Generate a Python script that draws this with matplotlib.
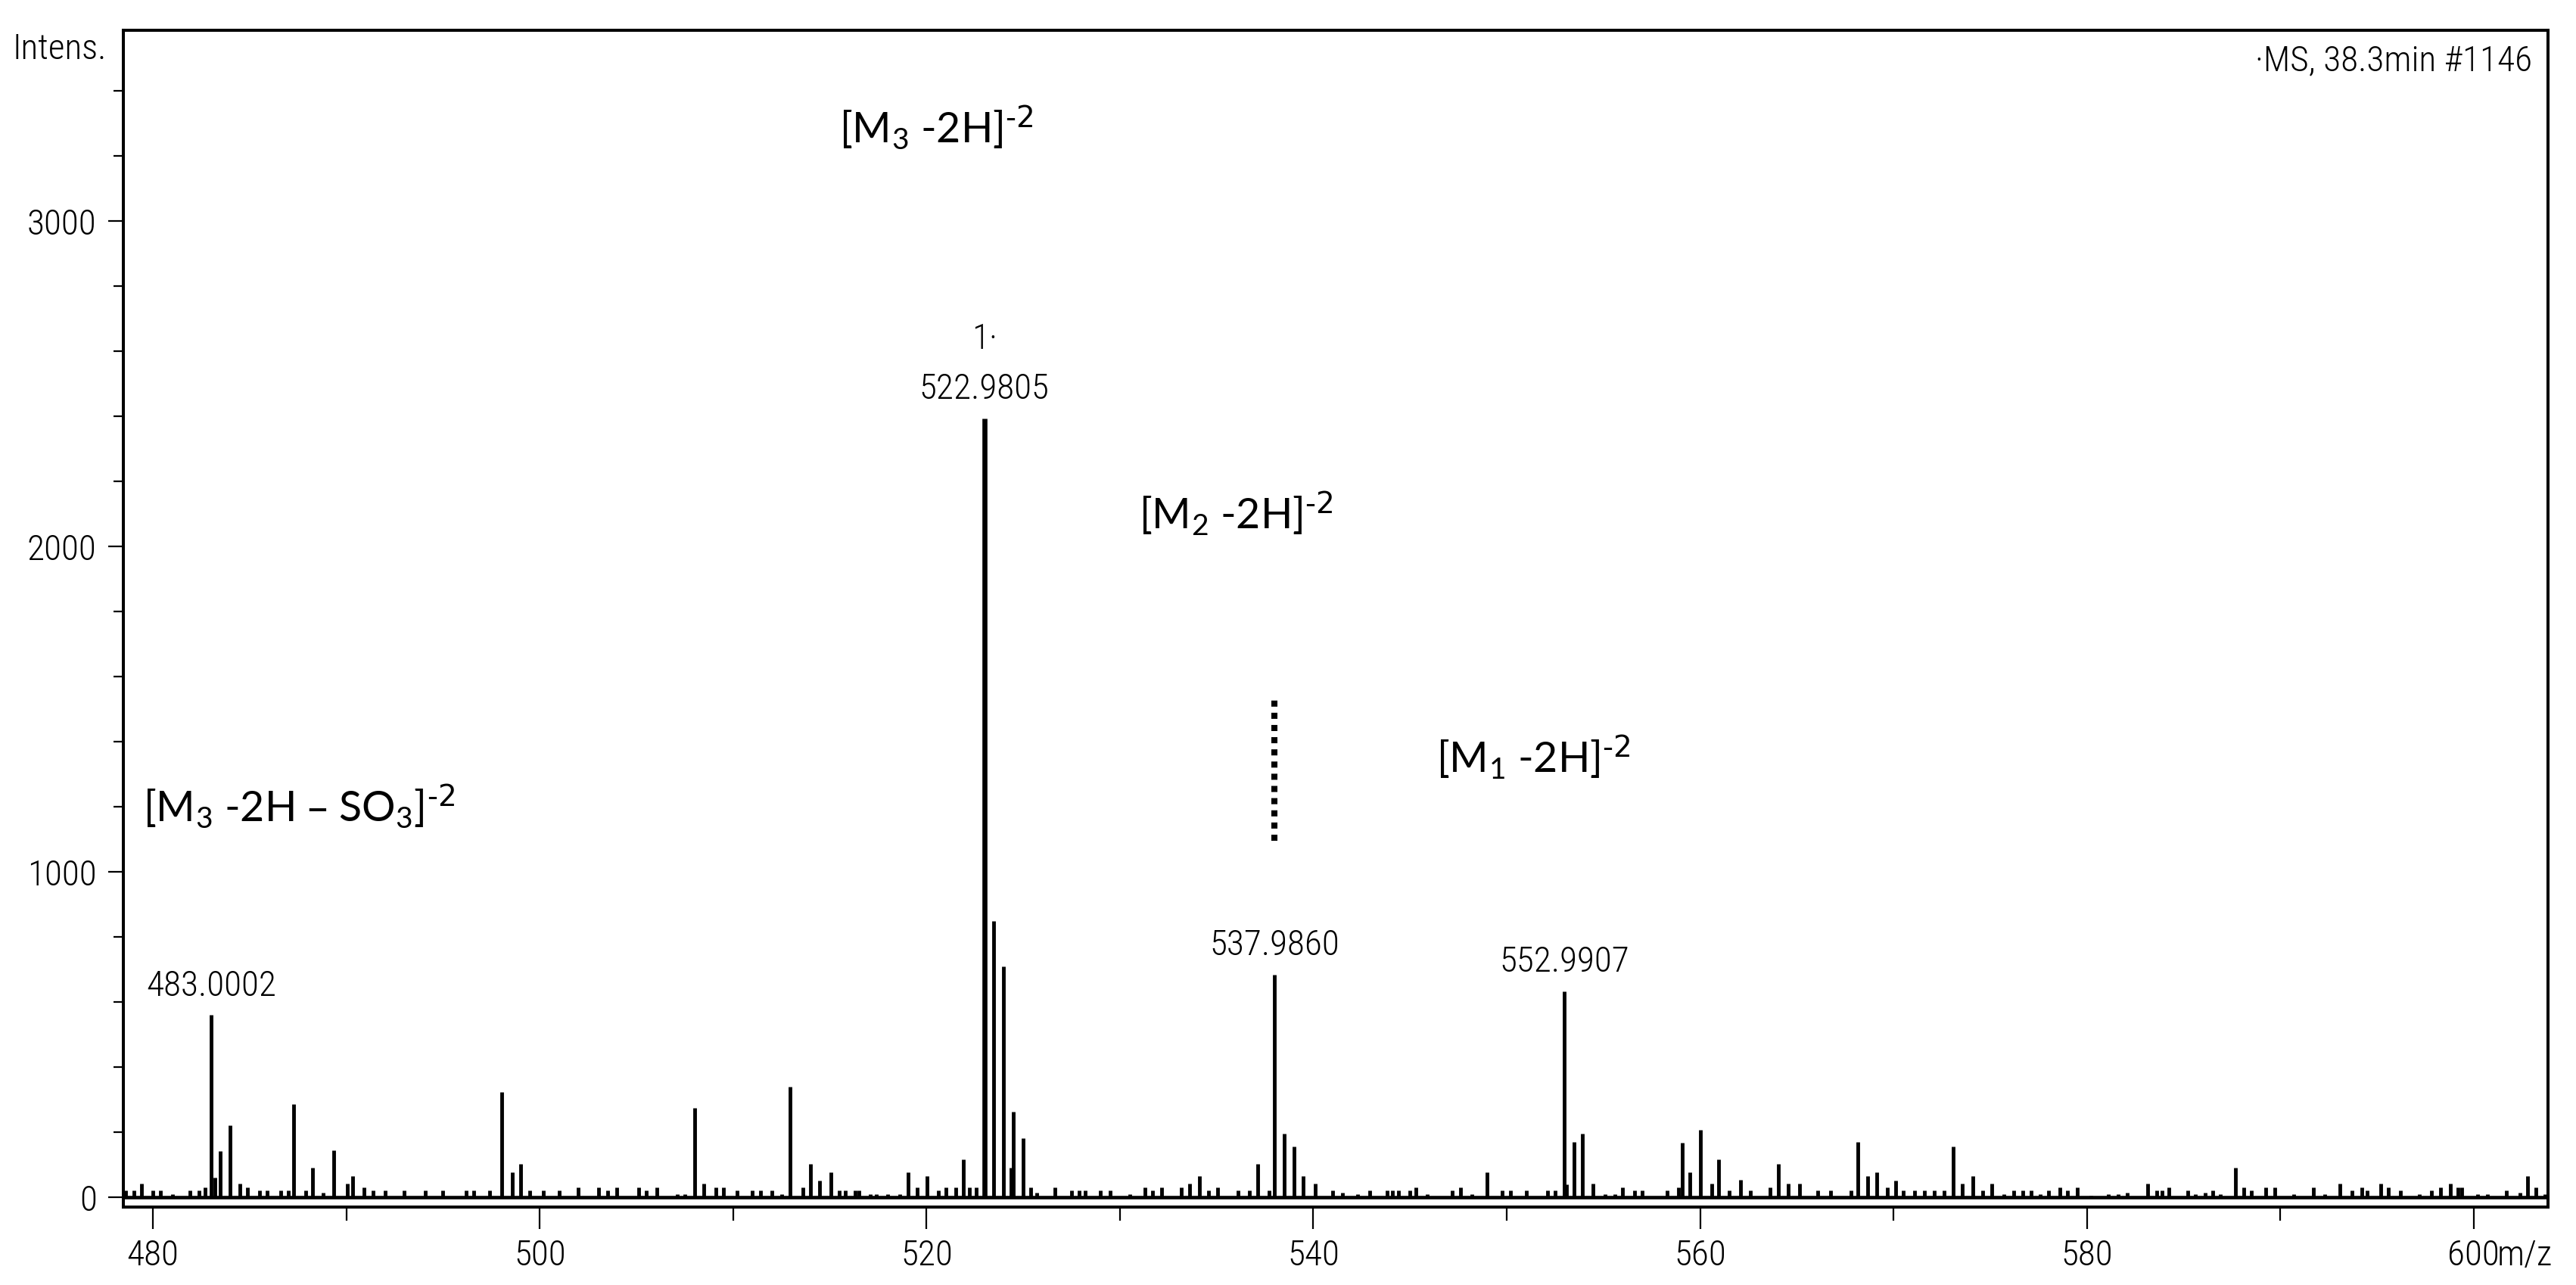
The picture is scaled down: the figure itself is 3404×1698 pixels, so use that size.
import numpy as np
import matplotlib
matplotlib.use('Agg')
from matplotlib import pyplot as plt
from matplotlib import font_manager

# peak list (m/z, intensity)
peakMz = [478.6, 479.0, 479.4, 480.0, 480.4, 481.0, 481.9, 482.4, 482.7, 483.0002,
          483.2, 483.47, 483.98, 484.49, 484.9, 485.5, 485.9, 486.6, 487.0, 487.26,
          487.9, 488.24, 488.8, 489.33, 490.07, 490.32, 490.9, 491.4, 492.0, 493.0,
          494.1, 495.0, 496.2, 496.6, 497.4, 498.04, 498.57, 499.02, 499.5, 500.2,
          501.0, 502.0, 503.04, 503.5, 504.0, 505.1, 505.5, 506.04, 507.1, 507.5,
          508.0, 508.5, 509.1, 509.5, 510.2, 511.0, 511.4, 512.0, 512.5, 512.96,
          513.6, 513.98, 514.47, 515.05, 515.5, 515.8, 516.3, 516.5, 517.1, 517.4,
          518.0, 518.6, 519.04, 519.5, 520.04, 520.6, 521.0, 521.5, 521.91, 522.2,
          522.55, 522.9805, 523.48, 523.98, 524.35, 524.48, 524.98, 525.4, 525.7, 526.63,
          527.5, 527.9, 528.2, 528.97, 529.5, 530.5, 531.31, 531.7, 532.16, 533.18,
          533.59, 534.10, 534.6, 535.07, 536.09, 536.7, 537.11, 537.7, 537.986, 538.49,
          538.99, 539.49, 540.1, 541.0, 541.5, 542.3, 542.9, 543.8, 544.1, 544.4,
          545.0, 545.3, 545.9, 547.2, 547.6, 548.2, 549.0, 549.75, 550.2, 551.0,
          552.1, 552.5, 552.9907, 553.1, 553.49, 553.93, 554.46, 555.1, 555.6, 556.0,
          556.6, 557.0, 558.3, 558.9, 559.06, 559.48, 560.01, 560.59, 560.97, 561.5,
          562.08, 562.6, 563.6, 564.03, 564.54, 565.16, 566.1, 566.75, 567.8, 568.16,
          568.67, 569.13, 569.69, 570.11, 570.5, 571.1, 571.6, 572.1, 572.6, 573.09,
          573.56, 574.09, 574.6, 575.09, 575.7, 576.2, 576.7, 577.1, 577.6, 578.0,
          578.6, 579.0, 579.5, 580.2, 581.1, 581.6, 582.1, 583.14, 583.6, 583.9,
          584.24, 585.2, 585.6, 586.1, 586.5, 586.9, 587.70, 588.1, 588.5, 589.24,
          589.7, 590.7, 591.7, 592.3, 593.1, 593.7, 594.2, 594.5, 595.2, 595.6,
          596.2, 597.2, 597.8, 598.3, 598.8, 599.2, 599.4, 600.2, 600.7, 601.7,
          602.4, 602.8, 603.2, 603.7]
peakInt = [20, 20, 43, 20, 22, 10, 20, 20, 30, 560,
           60, 143, 221, 43, 31, 20, 20, 20, 22, 287,
           20, 90, 15, 145, 43, 65, 31, 20, 20, 20,
           20, 20, 20, 20, 20, 323, 77, 102, 20, 20,
           20, 31, 31, 20, 31, 31, 20, 31, 10, 10,
           274, 43, 31, 31, 20, 20, 20, 20, 10, 339,
           31, 102, 52, 77, 20, 20, 20, 20, 10, 10,
           10, 10, 77, 31, 65, 20, 31, 31, 116, 31,
           31, 2394, 850, 709, 90, 262, 182, 31, 15, 31,
           20, 20, 20, 20, 20, 10, 31, 20, 31, 31,
           43, 65, 20, 31, 20, 20, 102, 20, 684, 195,
           157, 65, 43, 20, 15, 10, 20, 20, 20, 20,
           20, 31, 10, 20, 31, 10, 77, 20, 20, 20,
           20, 20, 633, 40, 170, 195, 43, 10, 10, 31,
           20, 20, 20, 31, 168, 77, 207, 43, 116, 20,
           54, 20, 31, 102, 43, 43, 20, 20, 20, 170,
           65, 77, 31, 52, 20, 20, 20, 20, 20, 157,
           43, 65, 20, 43, 10, 20, 20, 20, 10, 20,
           31, 20, 31, 5, 10, 10, 15, 43, 20, 20,
           31, 20, 10, 15, 20, 10, 90, 31, 20, 31,
           31, 10, 31, 10, 43, 20, 31, 20, 43, 31,
           20, 10, 20, 31, 43, 31, 31, 10, 10, 20,
           15, 65, 31, 10]

labelMz = [483.0002, 522.9805, 537.9860, 552.9907]
labelInt = [560, 2394, 684, 633]
labelText = ['483.0002', '522.9805', '537.9860', '552.9907']

# ion annotations: text, left m/z, baseline intensity
ionText = [r'[M$_3$ -2H]$^{\text{-2}}$', r'[M$_2$ -2H]$^{\text{-2}}$', r'[M$_1$ -2H]$^{\text{-2}}$',
           r'[M$_3$ -2H – SO$_3$]$^{\text{-2}}$']
ionMz = [515.5, 531.0, 546.35, 479.5]
ionInt = [3240, 2052, 1304, 1152]

# pick a narrow font for the instrument-style labels
available = {f.name for f in font_manager.fontManager.ttflist}
condensedDejavu = any(f.name == 'DejaVu Sans' and str(f.stretch) in ('condensed', 'semi-condensed')
                      for f in font_manager.fontManager.ttflist)
narrow = None
for cand in ['Roboto Condensed', 'Liberation Sans Narrow', 'Open Sans Condensed', 'Noto Sans Condensed']:
    if cand in available:
        narrow = cand
        break
if narrow:
    tickFont = dict(family=narrow, size=34, weight='light')
elif condensedDejavu:
    tickFont = dict(family='DejaVu Sans', stretch='condensed', size=30)
else:
    tickFont = dict(family='DejaVu Sans', size=27)

plt.rcParams['mathtext.default'] = 'regular'

fig = plt.figure(figsize=(34.04, 16.98), dpi=100)
ax = fig.add_axes([0.0479, 0.0607, 0.9412, 0.9157])

lws = [4.8 if v > 1000 else 3.5 for v in peakInt]
ax.vlines(peakMz, 0, peakInt, colors='black', linewidths=lws)
ax.axhline(0, color='black', lw=3.3)

# dotted separator
ax.vlines(538.0, 1095, 1530, colors='black', linewidths=5.8, linestyles=(0, (1, 1)))

ax.set_xlim(478.47, 603.84)
ax.set_ylim(-30, 3587)

ax.set_xticks([480, 500, 520, 540, 560, 580, 600])
ax.set_xticks(np.arange(490, 600, 20), minor=True)
ax.set_yticks([0, 1000, 2000, 3000])
ax.set_yticks(np.arange(200, 3587, 200), minor=True)
ax.set_xticklabels(['480', '500', '520', '540', '560', '580', '600'], **tickFont)
ax.set_yticklabels(['0', '1000', '2000', '3000'], **tickFont)

ax.tick_params(axis='x', which='major', length=21, width=1.6, pad=9)
ax.tick_params(axis='x', which='minor', length=13, width=1.6)
ax.tick_params(axis='y', which='major', length=14.5, width=1.6, pad=11)
ax.tick_params(axis='y', which='minor', length=9.5, width=1.6)
for s in ax.spines.values():
    s.set_linewidth(2.9)

ax.annotate('m/z', xy=(601.2, 0), xycoords=('data', 'axes fraction'), xytext=(0, -30),
            textcoords='offset points', ha='left', va='top', **tickFont)

for mz, val, txt in zip(labelMz, labelInt, labelText):
    ax.annotate(txt, xy=(mz, val), xytext=(0, 12), textcoords='offset points',
                ha='center', va='bottom', **tickFont)
ax.annotate('1·', xy=(labelMz[1], labelInt[1]), xytext=(0, 60), textcoords='offset points',
            ha='center', va='bottom', **tickFont)

for txt, mz, val in zip(ionText, ionMz, ionInt):
    ax.text(mz, val, txt, family=['Lato', 'DejaVu Sans'], fontsize=40, ha='left', va='baseline')

fig.text(0.0413, 0.954, 'Intens.', ha='right', va='baseline', **tickFont)
fig.text(0.983, 0.9452, '·MS, 38.3min #1146', ha='right', va='baseline', **tickFont)

fig.savefig('out.png', dpi=100)
